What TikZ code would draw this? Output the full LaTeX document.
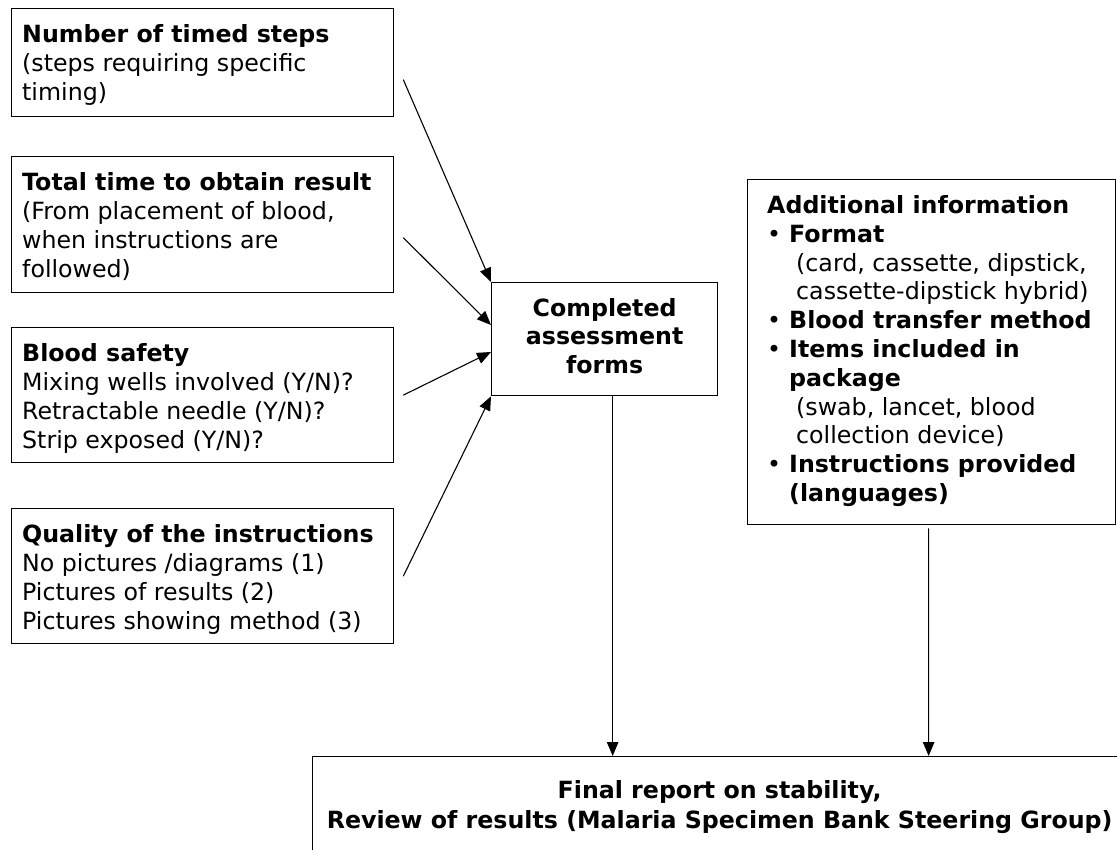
\documentclass[tikz,border=0pt]{standalone}
\usepackage{fontspec}
\setmainfont{DejaVu Sans}
\usetikzlibrary{arrows.meta}
\newcommand{\itembul}{\makebox[22bp][l]{\textbullet}}
\begin{document}
\begin{tikzpicture}[x=1bp,y=-1bp,
  box/.style={draw, line width=1.3bp, rectangle, inner sep=0pt, anchor=north west},
  txt/.style={anchor=base west, inner sep=0pt, font=\fontsize{23.7bp}{29.3bp}\selectfont},
  infotxt/.style={anchor=base west, inner sep=0pt, font=\fontsize{23.7bp}{28.8bp}\selectfont},
  arr/.style={line width=1.1bp, -{Triangle[length=14bp,width=11.5bp]}},
]
\useasboundingbox (0,0) rectangle (1117,850);
\fill[white] (0,0) rectangle (1117,850);
\clip (0,0) rectangle (1117,850);

% input boxes on the left
\node[box, minimum width=382bp, minimum height=108bp] (steps) at (11,8) {};
\node[box, minimum width=382bp, minimum height=136bp] (time) at (11,156) {};
\node[box, minimum width=382bp, minimum height=135bp] (safety) at (11,327) {};
\node[box, minimum width=382bp, minimum height=135bp] (quality) at (11,508) {};

\node[txt] (stepsT) at ([shift={(11,34)}]steps.north west)
  {\begin{tabular}[t]{@{}l@{}}\textbf{Number of timed steps}\\(steps requiring specific\\timing)\end{tabular}};
\node[txt] (timeT) at ([shift={(11,34)}]time.north west)
  {\begin{tabular}[t]{@{}l@{}}\textbf{Total time to obtain result}\\(From placement of blood,\\when instructions are\\followed)\end{tabular}};
\node[txt] (safetyT) at ([shift={(11,34)}]safety.north west)
  {\begin{tabular}[t]{@{}l@{}}\textbf{Blood safety}\\Mixing wells involved (Y/N)?\\Retractable needle (Y/N)?\\Strip exposed (Y/N)?\end{tabular}};
\node[txt] (qualityT) at ([shift={(11,34)}]quality.north west)
  {\begin{tabular}[t]{@{}l@{}}\textbf{Quality of the instructions}\\No pictures /diagrams (1)\\Pictures of results (2)\\Pictures showing method (3)\end{tabular}};

% collected forms
\node[box, minimum width=226bp, minimum height=113bp,
      font=\fontsize{23.7bp}{28.5bp}\selectfont] (done) at (491,282)
  {\begin{tabular}{@{}c@{}}\textbf{Completed}\\\textbf{assessment}\\\textbf{forms}\end{tabular}};

% additional information
\node[box, minimum width=368bp, minimum height=345bp] (info) at (747,179) {};
\node[infotxt] (infoT) at ([shift={(20,34.5)}]info.north west)
  {\begin{tabular}[t]{@{}l@{}}
   \textbf{Additional information}\\
   \itembul\textbf{Format}\\
   \hspace*{29bp}(card, cassette, dipstick,\\
   \hspace*{29bp}cassette-dipstick hybrid)\\
   \itembul\textbf{Blood transfer method}\\
   \itembul\textbf{Items included in}\\
   \hspace*{22bp}\textbf{package}\\
   \hspace*{29bp}(swab, lancet, blood\\
   \hspace*{29bp}collection device)\\
   \itembul\textbf{Instructions provided}\\
   \hspace*{22bp}\textbf{(languages)}
   \end{tabular}};

% final report
\node[box, minimum width=814bp, minimum height=102bp,
      font=\fontsize{23.7bp}{29.3bp}\selectfont] (final) at (312,756)
  {\begin{tabular}{@{}c@{}}\textbf{Final report on stability,}\\\textbf{Review of results (Malaria Specimen Bank Steering Group)}\end{tabular}};

% connectors
\draw[arr] ([shift={(9,17)}]steps.east) -- (done.north west);
\draw[arr] ([shift={(9,13)}]time.east) -- ([shift={(0,43)}]done.north west);
\draw[arr] ([shift={(9,0)}]safety.east) -- ([shift={(0,70)}]done.north west);
\draw[arr] ([shift={(9,0)}]quality.east) -- (done.south west);
\draw[arr] ([xshift=8bp]done.south) -- ([xshift=8bp]done.south |- final.north);
\draw[arr] ([shift={(-3,3)}]info.south) -- ([xshift=-3bp]info.south |- final.north);
\end{tikzpicture}
\end{document}
